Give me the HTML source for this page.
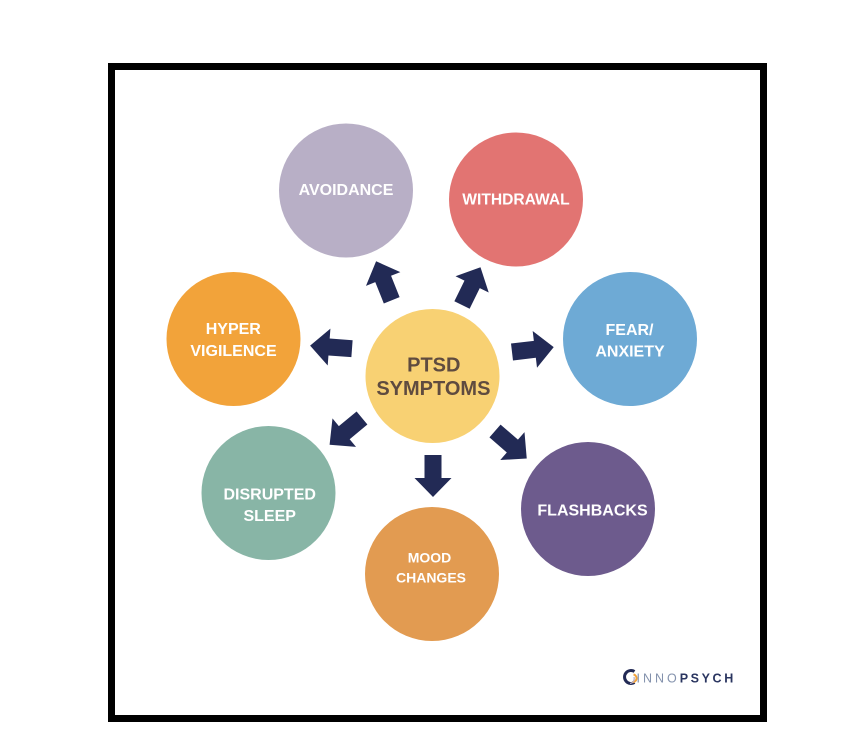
<!DOCTYPE html>
<html>
<head>
<meta charset="utf-8">
<style>
  html, body { margin: 0; padding: 0; background: #ffffff; }
  body { width: 866px; height: 754px; overflow: hidden; }
  svg { display: block; }
  .lbl { font-family: "Liberation Sans", "DejaVu Sans", sans-serif; font-weight: bold; fill: #ffffff; text-anchor: middle; }
</style>
</head>
<body>
<svg width="866" height="754" viewBox="0 0 866 754" xmlns="http://www.w3.org/2000/svg">
  <rect x="0" y="0" width="866" height="754" fill="#ffffff"/>
  <rect x="111.5" y="66.5" width="652" height="652" fill="#ffffff" stroke="#000000" stroke-width="7"/>

  <defs>
    <polygon id="arr" points="0,-8.5 23,-8.5 23,-18.5 42,0 23,18.5 23,8.5 0,8.5" fill="#222a55"/>
  </defs>

  <!-- circles -->
  <circle cx="346" cy="190.5" r="67" fill="#b8afc6"/>
  <circle cx="516" cy="199.5" r="67" fill="#e27472"/>
  <circle cx="233.5" cy="339" r="67" fill="#f2a33a"/>
  <circle cx="630" cy="339" r="67" fill="#6eaad5"/>
  <circle cx="432.5" cy="376" r="67" fill="#f8d173"/>
  <circle cx="268.5" cy="493" r="67" fill="#88b5a6"/>
  <circle cx="432" cy="574" r="67" fill="#e29b51"/>
  <circle cx="588" cy="509" r="67" fill="#6d5b8d"/>

  <!-- arrows -->
  <use href="#arr" transform="translate(352,348.7) rotate(184.2)"/>
  <use href="#arr" transform="translate(391.7,300.3) rotate(-111.8)"/>
  <use href="#arr" transform="translate(462,305) rotate(-63.9)"/>
  <use href="#arr" transform="translate(512,352) rotate(-6.7)"/>
  <use href="#arr" transform="translate(362,418) rotate(140.5)"/>
  <use href="#arr" transform="translate(433,455) rotate(90)"/>
  <use href="#arr" transform="translate(495,431) rotate(40.9)"/>

  <!-- labels -->
  <text class="lbl" x="346" y="195" font-size="16">AVOIDANCE</text>
  <text class="lbl" x="516" y="204.3" font-size="15.6">WITHDRAWAL</text>
  <text class="lbl" x="629.5" y="335" font-size="16">FEAR/</text>
  <text class="lbl" x="630" y="356.7" font-size="16">ANXIETY</text>
  <text class="lbl" x="233.3" y="334" font-size="16">HYPER</text>
  <text class="lbl" x="233.5" y="356" font-size="16">VIGILENCE</text>
  <text class="lbl" x="269.7" y="499.3" font-size="16">DISRUPTED</text>
  <text class="lbl" x="269.7" y="521" font-size="16">SLEEP</text>
  <text class="lbl" x="429.5" y="562.7" font-size="14">MOOD</text>
  <text class="lbl" x="431" y="582.7" font-size="14">CHANGES</text>
  <text class="lbl" x="592.5" y="515.7" font-size="16">FLASHBACKS</text>
  <text class="lbl" x="433.8" y="371.7" font-size="20" style="fill:#5f4b3f">PTSD</text>
  <text class="lbl" x="433.4" y="395" font-size="20" style="fill:#5f4b3f">SYMPTOMS</text>

  <!-- logo -->
  <g>
    <path d="M634.5,671.5 A6.5,6.5 0 1 0 634.5,682.5" fill="none" stroke="#222a55" stroke-width="3"/>
    <path d="M633.5,674.5 A3.5,3.5 0 0 1 632,682" fill="none" stroke="#f2a33a" stroke-width="2"/>
    <path d="M634,677 A5,5 0 0 1 630,683.5" fill="none" stroke="#b8afc6" stroke-width="1.2"/>
  </g>
  <text x="636.5" y="682.5" font-family="Liberation Sans, DejaVu Sans, sans-serif" font-size="12.5" letter-spacing="3" fill="#8492ad">INNO<tspan font-weight="bold" fill="#2a3560" letter-spacing="2.6">PSYCH</tspan></text>
</svg>
</body>
</html>
